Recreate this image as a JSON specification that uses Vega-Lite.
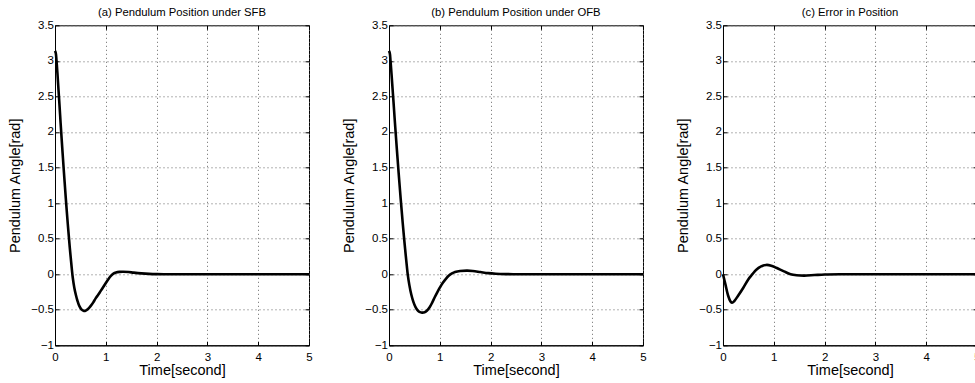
{
  "$schema": "https://vega.github.io/schema/vega-lite/v6.json",
  "background": "white",
  "padding": {"left": 7, "top": 6.3, "right": 0, "bottom": 3},
  "bounds": "flush",
  "spacing": 80,
  "config": {
    "font": "Liberation Sans",
    "view": {"stroke": "black", "strokeWidth": 1},
    "axis": {
      "labelFontSize": 11.5,
      "labelColor": "black",
      "labelFont": "Liberation Sans",
      "titleFont": "Liberation Sans",
      "titleFontSize": 14.5,
      "titleFontWeight": "normal",
      "titleColor": "black",
      "tickColor": "black",
      "domainColor": "black",
      "tickSize": -4,
      "labelPadding": 10.5,
      "gridColor": "#666666",
      "gridDash": [1, 3],
      "gridOpacity": 1,
      "labelFlush": false,
      "labelOverlap": false
    },
    "title": {"fontSize": 11.3, "fontWeight": "normal", "color": "black", "offset": 1, "anchor": "middle", "font": "Liberation Sans"}
  },
  "datasets": {
    "sfb": [
      {"t": 0, "angle": 3.14}, {"t": 0.015, "angle": 3.11}, {"t": 0.03, "angle": 3.0}, {"t": 0.05, "angle": 2.8},
      {"t": 0.07, "angle": 2.58}, {"t": 0.09, "angle": 2.36}, {"t": 0.11, "angle": 2.13}, {"t": 0.13, "angle": 1.91},
      {"t": 0.15, "angle": 1.7}, {"t": 0.17, "angle": 1.49}, {"t": 0.19, "angle": 1.29}, {"t": 0.21, "angle": 1.09},
      {"t": 0.23, "angle": 0.9}, {"t": 0.25, "angle": 0.72}, {"t": 0.27, "angle": 0.55}, {"t": 0.29, "angle": 0.38},
      {"t": 0.31, "angle": 0.23}, {"t": 0.33, "angle": 0.08}, {"t": 0.35, "angle": -0.05}, {"t": 0.38, "angle": -0.19},
      {"t": 0.41, "angle": -0.29}, {"t": 0.44, "angle": -0.37}, {"t": 0.48, "angle": -0.45}, {"t": 0.52, "angle": -0.495},
      {"t": 0.56, "angle": -0.515}, {"t": 0.6, "angle": -0.515}, {"t": 0.65, "angle": -0.49}, {"t": 0.7, "angle": -0.45},
      {"t": 0.75, "angle": -0.4}, {"t": 0.8, "angle": -0.34}, {"t": 0.85, "angle": -0.29}, {"t": 0.9, "angle": -0.235},
      {"t": 0.95, "angle": -0.18}, {"t": 1.0, "angle": -0.125}, {"t": 1.05, "angle": -0.07}, {"t": 1.1, "angle": -0.025},
      {"t": 1.15, "angle": 0.008}, {"t": 1.2, "angle": 0.024}, {"t": 1.27, "angle": 0.033}, {"t": 1.34, "angle": 0.035},
      {"t": 1.45, "angle": 0.03}, {"t": 1.55, "angle": 0.022}, {"t": 1.7, "angle": 0.012}, {"t": 1.85, "angle": 0.005},
      {"t": 2.0, "angle": 0.001}, {"t": 2.2, "angle": 0}, {"t": 3, "angle": 0}, {"t": 4, "angle": 0}, {"t": 5, "angle": 0}
    ],
    "ofb": [
      {"t": 0, "angle": 3.14}, {"t": 0.015, "angle": 3.11}, {"t": 0.03, "angle": 3.0}, {"t": 0.05, "angle": 2.81},
      {"t": 0.07, "angle": 2.61}, {"t": 0.09, "angle": 2.41}, {"t": 0.11, "angle": 2.2}, {"t": 0.13, "angle": 2.0},
      {"t": 0.15, "angle": 1.8}, {"t": 0.17, "angle": 1.61}, {"t": 0.19, "angle": 1.42}, {"t": 0.21, "angle": 1.24},
      {"t": 0.23, "angle": 1.06}, {"t": 0.25, "angle": 0.89}, {"t": 0.27, "angle": 0.72}, {"t": 0.29, "angle": 0.56},
      {"t": 0.31, "angle": 0.41}, {"t": 0.33, "angle": 0.26}, {"t": 0.35, "angle": 0.12}, {"t": 0.37, "angle": -0.01},
      {"t": 0.4, "angle": -0.15}, {"t": 0.44, "angle": -0.29}, {"t": 0.48, "angle": -0.39}, {"t": 0.52, "angle": -0.46},
      {"t": 0.56, "angle": -0.505}, {"t": 0.6, "angle": -0.53}, {"t": 0.65, "angle": -0.54}, {"t": 0.7, "angle": -0.535},
      {"t": 0.75, "angle": -0.51}, {"t": 0.8, "angle": -0.465}, {"t": 0.85, "angle": -0.4}, {"t": 0.9, "angle": -0.325},
      {"t": 0.95, "angle": -0.255}, {"t": 1.0, "angle": -0.19}, {"t": 1.06, "angle": -0.12}, {"t": 1.12, "angle": -0.065},
      {"t": 1.18, "angle": -0.02}, {"t": 1.24, "angle": 0.01}, {"t": 1.3, "angle": 0.03}, {"t": 1.4, "angle": 0.045},
      {"t": 1.54, "angle": 0.05}, {"t": 1.65, "angle": 0.045}, {"t": 1.8, "angle": 0.03}, {"t": 1.95, "angle": 0.015},
      {"t": 2.1, "angle": 0.006}, {"t": 2.3, "angle": 0.001}, {"t": 2.5, "angle": 0}, {"t": 3, "angle": 0}, {"t": 4, "angle": 0}, {"t": 5, "angle": 0}
    ],
    "err": [
      {"t": 0, "angle": 0}, {"t": 0.05, "angle": -0.15}, {"t": 0.1, "angle": -0.3}, {"t": 0.15, "angle": -0.385},
      {"t": 0.18, "angle": -0.4}, {"t": 0.22, "angle": -0.38}, {"t": 0.3, "angle": -0.3}, {"t": 0.4, "angle": -0.19},
      {"t": 0.5, "angle": -0.07}, {"t": 0.58, "angle": 0.0}, {"t": 0.65, "angle": 0.06}, {"t": 0.75, "angle": 0.11},
      {"t": 0.85, "angle": 0.13}, {"t": 0.95, "angle": 0.12}, {"t": 1.05, "angle": 0.09}, {"t": 1.2, "angle": 0.04},
      {"t": 1.33, "angle": 0.0}, {"t": 1.45, "angle": -0.015}, {"t": 1.6, "angle": -0.02}, {"t": 1.8, "angle": -0.012},
      {"t": 2.0, "angle": -0.004}, {"t": 2.3, "angle": 0}, {"t": 3, "angle": 0}, {"t": 4, "angle": 0}, {"t": 5, "angle": 0}
    ]
  },
  "hconcat": [
    {
      "title": "(a) Pendulum Position under SFB",
      "width": 254, "height": 320,
      "data": {"name": "sfb"},
      "layer": [
        {
          "mark": {"type": "line", "color": "black", "strokeWidth": 2.6, "interpolate": "catmull-rom"},
          "encoding": {
            "x": {"field": "t", "type": "quantitative", "scale": {"domain": [0, 5], "nice": false}, "axis": {"title": "Time[second]", "values": [0, 1, 2, 3, 4, 5], "titlePadding": 0}},
            "y": {"field": "angle", "type": "quantitative", "scale": {"domain": [-1, 3.5], "nice": false, "zero": false}, "axis": {"title": "Pendulum Angle[rad]", "values": [-1, -0.5, 0, 0.5, 1, 1.5, 2, 2.5, 3, 3.5], "format": "~g", "labelPadding": 5.5, "titlePadding": 8}}
          }
        },
        {
          "mark": {"type": "line", "opacity": 0},
          "encoding": {
            "x": {"field": "t", "type": "quantitative", "axis": {"orient": "top", "labels": false, "title": null, "domain": false, "grid": false, "values": [0, 1, 2, 3, 4, 5]}},
            "y": {"field": "angle", "type": "quantitative", "axis": {"orient": "right", "labels": false, "title": null, "domain": false, "grid": false, "values": [-1, -0.5, 0, 0.5, 1, 1.5, 2, 2.5, 3, 3.5]}}
          }
        }
      ],
      "resolve": {"axis": {"x": "independent", "y": "independent"}}
    },
    {
      "title": "(b) Pendulum Position under OFB",
      "width": 254, "height": 320,
      "data": {"name": "ofb"},
      "layer": [
        {
          "mark": {"type": "line", "color": "black", "strokeWidth": 2.6, "interpolate": "catmull-rom"},
          "encoding": {
            "x": {"field": "t", "type": "quantitative", "scale": {"domain": [0, 5], "nice": false}, "axis": {"title": "Time[second]", "values": [0, 1, 2, 3, 4, 5], "titlePadding": 0}},
            "y": {"field": "angle", "type": "quantitative", "scale": {"domain": [-1, 3.5], "nice": false, "zero": false}, "axis": {"title": "Pendulum Angle[rad]", "values": [-1, -0.5, 0, 0.5, 1, 1.5, 2, 2.5, 3, 3.5], "format": "~g", "labelPadding": 5.5, "titlePadding": 8}}
          }
        },
        {
          "mark": {"type": "line", "opacity": 0},
          "encoding": {
            "x": {"field": "t", "type": "quantitative", "axis": {"orient": "top", "labels": false, "title": null, "domain": false, "grid": false, "values": [0, 1, 2, 3, 4, 5]}},
            "y": {"field": "angle", "type": "quantitative", "axis": {"orient": "right", "labels": false, "title": null, "domain": false, "grid": false, "values": [-1, -0.5, 0, 0.5, 1, 1.5, 2, 2.5, 3, 3.5]}}
          }
        }
      ],
      "resolve": {"axis": {"x": "independent", "y": "independent"}}
    },
    {
      "title": "(c) Error in Position",
      "width": 254, "height": 320,
      "data": {"name": "err"},
      "layer": [
        {
          "mark": {"type": "line", "color": "black", "strokeWidth": 2.6, "interpolate": "catmull-rom"},
          "encoding": {
            "x": {"field": "t", "type": "quantitative", "scale": {"domain": [0, 5], "nice": false}, "axis": {"title": "Time[second]", "values": [0, 1, 2, 3, 4, 5], "titlePadding": 0}},
            "y": {"field": "angle", "type": "quantitative", "scale": {"domain": [-1, 3.5], "nice": false, "zero": false}, "axis": {"title": "Pendulum Angle[rad]", "values": [-1, -0.5, 0, 0.5, 1, 1.5, 2, 2.5, 3, 3.5], "format": "~g", "labelPadding": 5.5, "titlePadding": 8}}
          }
        },
        {
          "mark": {"type": "line", "opacity": 0},
          "encoding": {
            "x": {"field": "t", "type": "quantitative", "axis": {"orient": "top", "labels": false, "title": null, "domain": false, "grid": false, "values": [0, 1, 2, 3, 4, 5]}},
            "y": {"field": "angle", "type": "quantitative", "axis": {"orient": "right", "labels": false, "title": null, "domain": false, "grid": false, "values": [-1, -0.5, 0, 0.5, 1, 1.5, 2, 2.5, 3, 3.5]}}
          }
        }
      ],
      "resolve": {"axis": {"x": "independent", "y": "independent"}}
    }
  ]
}
